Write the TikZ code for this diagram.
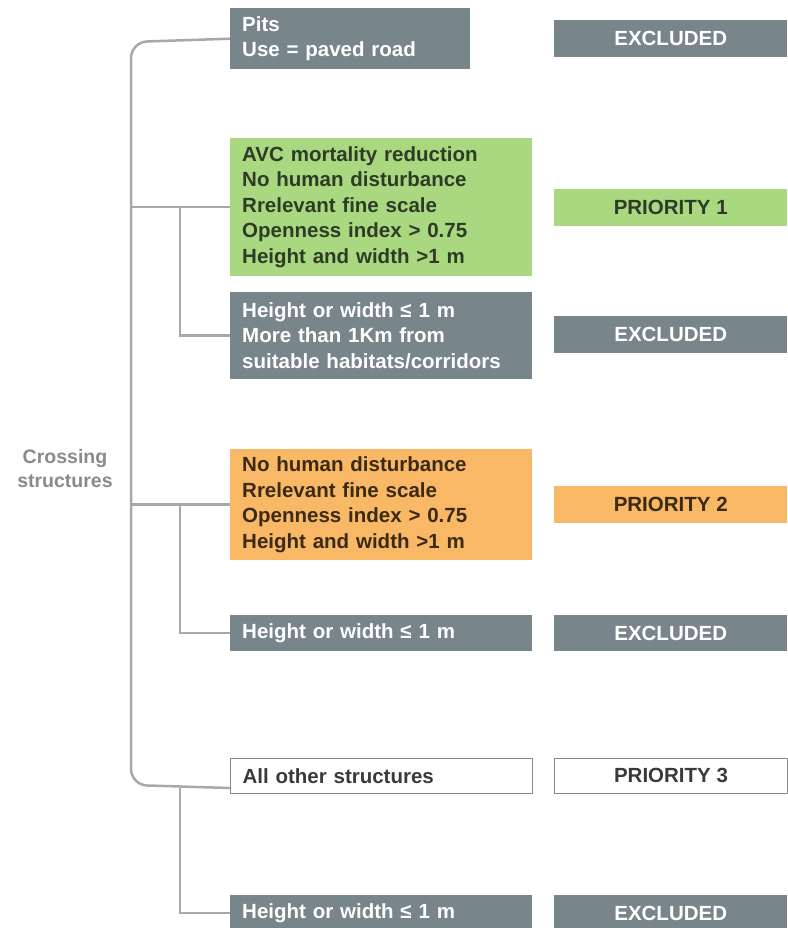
\documentclass[tikz,border=0pt]{standalone}
\usepackage{fontspec}
\setmainfont{Liberation Sans}
\usepackage{tikz}
\usetikzlibrary{calc}
\definecolor{darkGrey}{HTML}{78858A}
\definecolor{lineGrey}{HTML}{A8A8A8}
\definecolor{labelGrey}{HTML}{8A8A8A}
\definecolor{leafGreen}{HTML}{A9D881}
\definecolor{leafText}{HTML}{2E3B26}
\definecolor{sandOrange}{HTML}{F9B866}
\definecolor{sandText}{HTML}{3B2A14}
\definecolor{inkGrey}{HTML}{3A3A3A}

\begin{document}
\begin{tikzpicture}[x=1pt,y=-1pt,
  font=\fontsize{20.5}{25.5}\selectfont\bfseries,
  condbox/.style={anchor=north west,inner xsep=12pt,inner ysep=0pt,align=left,text width=278pt},
  resultbox/.style={anchor=west,minimum width=233pt,minimum height=37pt,inner sep=0pt,align=center},
  greybox/.style={fill=darkGrey,text=white},
  link/.style={lineGrey,line width=2.5pt}]
\useasboundingbox (0,0) rectangle (787,928);
% root label
\node[labelGrey,align=center,font=\fontsize{19.5}{24}\selectfont\bfseries] (root) at (65,469) {Crossing\\structures};
% conditions
\node[condbox,greybox,text width=216pt,minimum height=61pt] (pits) at (230,8) {Pits\\Use = paved road};
\node[condbox,fill=leafGreen,text=leafText,minimum height=138pt] (green) at (230,138) {AVC mortality reduction\\No human disturbance\\Rrelevant fine scale\\Openness index > 0.75\\Height and width >1 m};
\node[condbox,greybox,minimum height=87pt] (lowA) at (230,292) {Height or width ≤ 1 m\\More than 1Km from\\suitable habitats/corridors};
\node[condbox,fill=sandOrange,text=sandText,minimum height=111pt] (orange) at (230,449) {No human disturbance\\Rrelevant fine scale\\Openness index > 0.75\\Height and width >1 m};
\node[condbox,greybox,minimum height=36pt] (lowB) at (230,615) {Height or width ≤ 1 m};
\node[condbox,draw=labelGrey,line width=1pt,text=inkGrey,minimum height=35pt] (other) at (230,758) {All other structures};
\node[condbox,greybox,minimum height=36pt] (lowC) at (230,895) {Height or width ≤ 1 m};
% results
\node[resultbox,greybox] (exA) at (554,38.5) {EXCLUDED};
\node[resultbox,fill=leafGreen,text=leafText] (prio1) at (554,207) {PRIORITY 1};
\node[resultbox,greybox] (exB) at (554,334.5) {EXCLUDED};
\node[resultbox,fill=sandOrange,text=sandText] (prio2) at (554,504) {PRIORITY 2};
\node[resultbox,greybox,minimum height=36pt] (exC) at (554,633) {EXCLUDED};
\node[resultbox,draw=labelGrey,line width=1pt,text=inkGrey,minimum height=35pt] (prio3) at (554,775.5) {PRIORITY 3};
\node[resultbox,greybox,minimum height=36pt] (exD) at (554,913) {EXCLUDED};
% bracket
\coordinate (spine) at (131,0);
\coordinate (sub) at (180,0);
\coordinate (otherFoot) at ($(other.south west)+(0,-6)$);
\draw[link,rounded corners=16pt] (pits.west) -- (spine |- 0,42) -- (spine |- 0,785) -- (otherFoot);
\draw[link] (spine |- green.west) -- (green.west);
\draw[link] (spine |- orange.west) -- (orange.west);
\draw[link] (sub |- green.west) |- (lowA.west);
\draw[link] (sub |- orange.west) |- (lowB.west);
\draw[link] (sub |- otherFoot) |- (lowC.west);
\end{tikzpicture}
\end{document}
